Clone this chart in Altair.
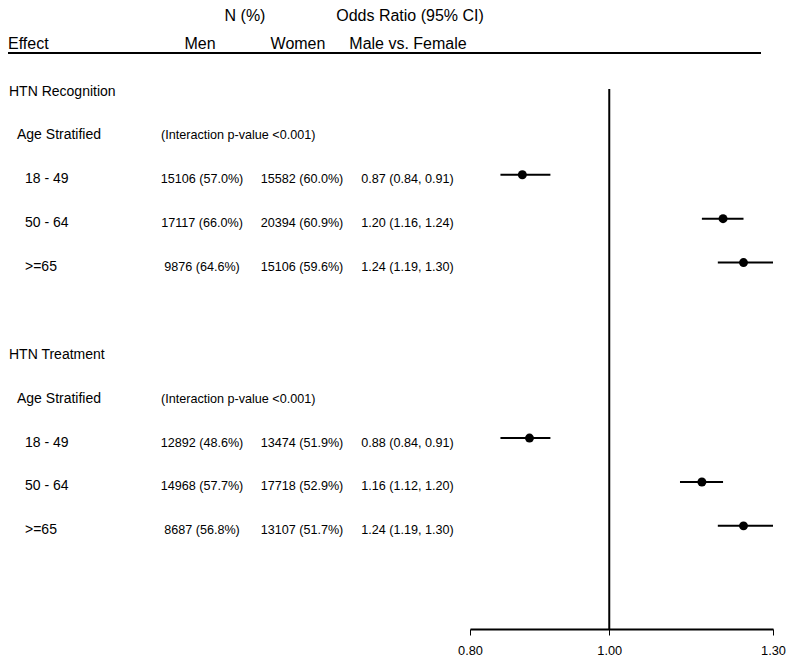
import altair as alt
import pandas as pd

# ---- data ----
groups = ["HTN Recognition", "HTN Treatment"]
stratum_title = "Age Stratified"
interaction = ["(Interaction p-value <0.001)", "(Interaction p-value <0.001)"]
strata = ["18 - 49", "50 - 64", ">=65"]

men_n = [15106, 17117, 9876, 12892, 14968, 8687]
men_pct = [57.0, 66.0, 64.6, 48.6, 57.7, 56.8]
women_n = [15582, 20394, 15106, 13474, 17718, 13107]
women_pct = [60.0, 60.9, 59.6, 51.9, 52.9, 51.7]
or_est = [0.87, 1.20, 1.24, 0.88, 1.16, 1.24]
or_lo = [0.84, 1.16, 1.19, 0.84, 1.12, 1.19]
or_hi = [0.91, 1.24, 1.30, 0.91, 1.20, 1.30]

x_ticks = [0.80, 1.00, 1.30]
ref_value = [1.0]

# ---- tables ----
group_rows = pd.DataFrame({
    "label": groups,
    "row": [6 * g for g in range(len(groups))],
})
strat_rows = pd.DataFrame({
    "label": [stratum_title] * len(groups),
    "note": interaction,
    "row": [6 * g + 1 for g in range(len(groups))],
})
recs = []
for g in range(len(groups)):
    for i, s in enumerate(strata):
        k = g * len(strata) + i
        recs.append({
            "label": s,
            "row": 6 * g + 2 + i,
            "men": f"{men_n[k]} ({men_pct[k]:.1f}%)",
            "women": f"{women_n[k]} ({women_pct[k]:.1f}%)",
            "ortxt": f"{or_est[k]:.2f} ({or_lo[k]:.2f}, {or_hi[k]:.2f})",
            "est": or_est[k],
            "lo": or_lo[k],
            "hi": or_hi[k],
        })
est_rows = pd.DataFrame(recs)
ref_df = pd.DataFrame({"ref": ref_value})

FONT = "Liberation Sans"
W, H = 303, 542

xscale = alt.Scale(type="log", domain=[0.8, 1.3], nice=False)
yscale = alt.Scale(domain=[0, 12.35], reverse=True, nice=False, zero=False)
Y = alt.Y("row:Q", scale=yscale, axis=None)
xaxis = alt.Axis(
    values=x_ticks, format=".2f", title=None, grid=False,
    domainColor="black", domainWidth=2, tickColor="black",
    tickWidth=1, tickSize=6, labelFontSize=12.8, labelFont=FONT,
    labelColor="black", labelPadding=9, labelFlush=False,
)

def col_text(df, field, xpix, size, align):
    return alt.Chart(df).mark_text(
        align=align, baseline="middle", fontSize=size, font=FONT, color="black", dy=4.5
    ).encode(x=alt.value(xpix), y=Y, text=alt.Text(f"{field}:N"))

def header(txt, xpix, ypix, align="center"):
    return alt.Chart(ref_df).mark_text(
        align=align, baseline="middle", fontSize=16, font=FONT, color="black"
    ).encode(x=alt.value(xpix), y=alt.value(ypix), text=alt.value(txt))

layers = [
    alt.Chart(ref_df).mark_rule(color="black", strokeWidth=2).encode(
        x=alt.X("ref:Q", scale=xscale, axis=xaxis),
        y=alt.value(2),
        y2=alt.value(H),
    ),
    alt.Chart(est_rows).mark_rule(color="black", strokeWidth=2).encode(
        x=alt.X("lo:Q", scale=xscale, axis=xaxis),
        x2="hi:Q",
        y=Y,
    ),
    alt.Chart(est_rows).mark_point(
        filled=True, color="black", size=80, opacity=1, shape="circle"
    ).encode(
        x=alt.X("est:Q", scale=xscale, axis=xaxis),
        y=Y,
    ),
    header("N (%)", -225, -71),
    header("Odds Ratio (95% CI)", -60, -71),
    header("Effect", -462, -43, align="left"),
    header("Men", -270, -43),
    header("Women", -172, -43),
    header("Male vs. Female", -62, -43),
    alt.Chart(ref_df).mark_rule(color="black", strokeWidth=2).encode(
        x=alt.value(-462), x2=alt.value(291), y=alt.value(-34)
    ),
    col_text(group_rows, "label", -461, 14, "left"),
    col_text(strat_rows, "label", -453, 14, "left"),
    col_text(strat_rows, "note", -309, 12.6, "left"),
    col_text(est_rows, "label", -445, 14, "left"),
    col_text(est_rows, "men", -268, 12.6, "center"),
    col_text(est_rows, "women", -168, 12.6, "center"),
    col_text(est_rows, "ortxt", -62.5, 12.6, "center"),
]

chart = alt.layer(*layers).properties(
    width=W, height=H,
    autosize=alt.AutoSizeParams(type="none"),
    padding={"left": 462, "top": 79, "right": 14, "bottom": 30},
).configure(
    font=FONT, background="white", view=alt.ViewConfig(stroke=None)
)

chart.save("out.html", embed_options={"renderer": "svg", "actions": False})
